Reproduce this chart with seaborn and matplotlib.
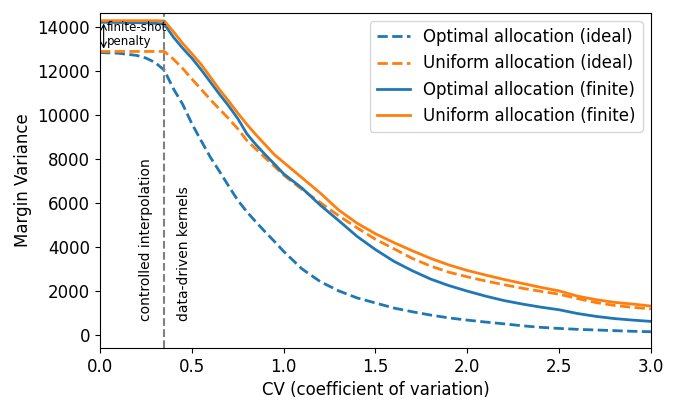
import numpy as np
import pandas as pd
import matplotlib
matplotlib.use("Agg")
import matplotlib.pyplot as plt
import seaborn as sns

cv = [0, 0.1, 0.2, 0.25, 0.3, 0.35, 0.4, 0.45, 0.5, 0.55, 0.6, 0.65, 0.7, 0.75,
      0.8, 0.85, 0.9, 0.95, 1.0, 1.1, 1.2, 1.3, 1.4, 1.5, 1.6, 1.7, 1.8, 1.9,
      2.0, 2.1, 2.2, 2.3, 2.4, 2.5, 2.6, 2.7, 2.8, 2.9, 3.0]

optimal_ideal = [12850, 12820, 12720, 12600, 12400, 12050, 11200, 10500, 9620, 8850,
                 8100, 7450, 6780, 6130, 5600, 5130, 4680, 4250, 3800, 3000, 2420,
                 2000, 1680, 1450, 1220, 1050, 900, 770, 670, 580, 500, 410, 340,
                 290, 250, 220, 190, 160, 140]
uniform_ideal = [12900, 12900, 12900, 12900, 12900, 12900, 12550, 12130, 11650, 11190,
                 10720, 10280, 9850, 9380, 8850, 8450, 8050, 7670, 7270, 6620, 6020,
                 5420, 4870, 4350, 3920, 3480, 3130, 2850, 2640, 2450, 2280, 2120,
                 1980, 1850, 1650, 1470, 1340, 1250, 1180]
optimal_finite = [14230, 14220, 14210, 14200, 14180, 14150, 13550, 13050, 12600, 12080,
                  11520, 10960, 10430, 9850, 9150, 8650, 8200, 7770, 7330, 6680, 5900,
                  5200, 4480, 3880, 3350, 2920, 2540, 2240, 1990, 1760, 1560, 1400,
                  1260, 1140, 970, 840, 740, 670, 610]
uniform_finite = [14300, 14300, 14300, 14300, 14300, 14290, 13800, 13270, 12800, 12320,
                  11750, 11170, 10650, 10100, 9580, 9100, 8650, 8200, 7850, 7150, 6450,
                  5680, 5080, 4600, 4200, 3830, 3480, 3180, 2930, 2720, 2520, 2340,
                  2160, 2000, 1760, 1600, 1480, 1400, 1310]

series_names = ["Optimal allocation (ideal)", "Uniform allocation (ideal)",
                "Optimal allocation (finite)", "Uniform allocation (finite)"]
series_vals = [optimal_ideal, uniform_ideal, optimal_finite, uniform_finite]

rows = []
for name, vals in zip(series_names, series_vals):
    for x, y in zip(cv, vals):
        rows.append({"cv": x, "value": y, "series": name})
df = pd.DataFrame(rows)

palette = {series_names[0]: "#1f77b4", series_names[1]: "#ff7f0e",
           series_names[2]: "#1f77b4", series_names[3]: "#ff7f0e"}
dashes = {series_names[0]: (3.7, 1.6), series_names[1]: (3.7, 1.6),
          series_names[2]: "", series_names[3]: ""}

fig = plt.figure(figsize=(6.88, 4.03), dpi=100)
ax = fig.add_axes([0.1453, 0.1365, 0.8008, 0.8312])

sns.lineplot(data=df, x="cv", y="value", hue="series", style="series",
             hue_order=series_names, style_order=series_names,
             palette=palette, dashes=dashes, linewidth=2, ax=ax)

ax.axvline(0.35, color="gray", linestyle="--", linewidth=1.5)

ax.annotate("", xy=(0.02, 12900), xytext=(0.02, 14300),
            arrowprops=dict(arrowstyle="<->", color="black", lw=0.8))
ax.text(0.035, 13650, "finite-shot\npenalty", fontsize=8.5, va="center", ha="left",
        linespacing=1.1)

ax.text(0.25, 640, "controlled interpolation", rotation=90, fontsize=10,
        ha="center", va="bottom")
ax.text(0.455, 640, "data-driven kernels", rotation=90, fontsize=10,
        ha="center", va="bottom")

ax.set_xlim(0, 3.0)
ax.set_ylim(-600, 14650)
ax.set_xticks([0, 0.5, 1.0, 1.5, 2.0, 2.5, 3.0])
ax.set_yticks([0, 2000, 4000, 6000, 8000, 10000, 12000, 14000])
ax.tick_params(labelsize=12)
ax.set_xlabel("CV (coefficient of variation)", fontsize=12)
ax.set_ylabel("Margin Variance", fontsize=12)

leg = ax.legend(loc="upper right", fontsize=12)
leg.set_title(None)

fig.savefig("out.png", dpi=100)
